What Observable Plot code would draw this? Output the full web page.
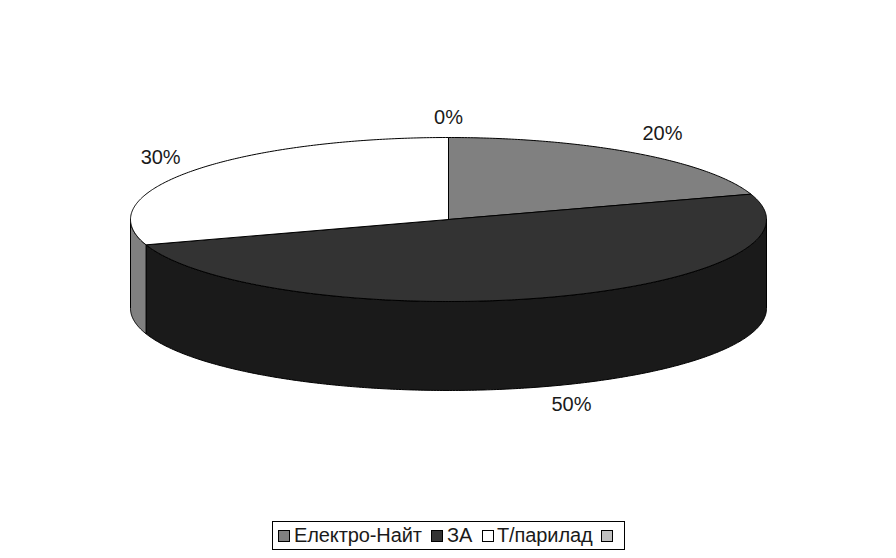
<!DOCTYPE html>
<html>
<head>
<meta charset="utf-8">
<script src="https://cdn.jsdelivr.net/npm/d3@7"></script>
<script src="https://cdn.jsdelivr.net/npm/@observablehq/plot@0.6"></script>
<style>
html,body{margin:0;padding:0;background:#fff;}
#chart svg{display:block;}
#legend{position:absolute;left:272px;top:521px;width:351px;height:27px;border:1px solid #000;background:#fff;
 font:20px "Liberation Sans",Arial,sans-serif;color:#1a1a1a;letter-spacing:-0.1px;}
#legend .s{position:absolute;top:8px;width:10px;height:10px;border:1px solid #000;}
#legend .t{position:absolute;top:1px;line-height:25px;white-space:nowrap;}
</style>
</head>
<body>
<div id="chart"></div>
<div id="legend"></div>
<script>
const categories = ["Електро-Найт", "ЗА", "Т/парилад", ""];
const shares = [20, 50, 30, 0];
const topColors = ["#808080", "#333333", "#ffffff", "#c0c0c0"];
const wallColors = ["#666666", "#1a1a1a", "#808080", "#999999"];
const legendSwatchX = [5, 158, 209, 328];
const legendTextX = [21, 174, 224, 345];
const labelNudgeX = [-1, 10, 8, 0];
const labelNudgeY = [-3, -1, -2, 1];

const depth = 1.085;
const total = d3.sum(shares);
let acc = 0;
const slices = shares.map((v, i) => {
  const a0 = acc / total * 2 * Math.PI;
  acc += v;
  return {i, v, a0, a1: acc / total * 2 * Math.PI};
});
const arc = (a0, a1) => {
  const n = Math.max(2, Math.ceil((a1 - a0) / 0.01));
  return d3.range(n + 1).map(k => a0 + (a1 - a0) * k / n);
};
const walls = [], tops = [];
for (const s of slices) {
  const from = Math.max(s.a0, Math.PI / 2), to = Math.min(s.a1, 3 * Math.PI / 2);
  if (to > from && s.v > 0) {
    const upper = arc(from, to).map(a => ({x: Math.sin(a), y: Math.cos(a)}));
    const lower = arc(from, to).reverse().map(a => ({x: Math.sin(a), y: Math.cos(a) - depth}));
    for (const p of [...upper, ...lower, upper[0]]) walls.push({...p, z: s.i, c: wallColors[s.i]});
  }
  if (s.v > 0) {
    const pts = [{x: 0, y: 0}, ...arc(s.a0, s.a1).map(a => ({x: Math.sin(a), y: Math.cos(a)})), {x: 0, y: 0}];
    for (const p of pts) tops.push({...p, z: s.i, c: topColors[s.i]});
  }
}
const labelMarks = slices.map(s => {
  const m = (s.a0 + s.a1) / 2, c = Math.cos(m);
  const d = {
    x: 1.15 * Math.sin(m),
    y: 1.25 * c - (c < 0 ? depth : 0),
    text: s.v + "%"
  };
  return Plot.text([d], {x: "x", y: "y", text: "text", dx: labelNudgeX[s.i], dy: labelNudgeY[s.i],
    fontSize: 20, fontFamily: "Liberation Sans", fill: "#1a1a1a"});
});

const plot = Plot.plot({
  width: 896, height: 518,
  marginTop: 0, marginRight: 0, marginBottom: 0, marginLeft: 0,
  x: {domain: [-1, 1], range: [130, 766], axis: null},
  y: {domain: [-1, 1], range: [301, 137], axis: null},
  style: {background: "#fff"},
  marks: [
    Plot.line(walls, {x: "x", y: "y", z: "z", fill: "c", stroke: "#000", strokeWidth: 1, curve: "linear"}),
    Plot.line(tops, {x: "x", y: "y", z: "z", fill: "c", stroke: "#000", strokeWidth: 1, curve: "linear"}),
    ...labelMarks
  ]
});
document.getElementById("chart").append(plot);

const legend = document.getElementById("legend");
categories.forEach((c, i) => {
  const s = document.createElement("div");
  s.className = "s"; s.style.left = legendSwatchX[i] + "px"; s.style.background = topColors[i];
  legend.append(s);
  const t = document.createElement("div");
  t.className = "t"; t.style.left = legendTextX[i] + "px"; t.textContent = c;
  legend.append(t);
});
</script>
</body>
</html>
